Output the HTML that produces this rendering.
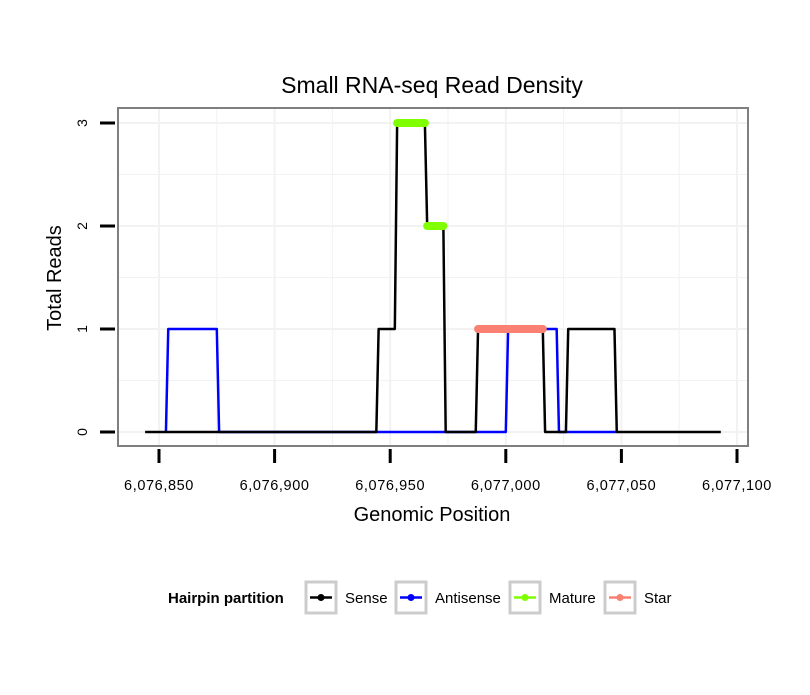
<!DOCTYPE html>
<html><head><meta charset="utf-8"><style>
body{margin:0;background:#fff;}
svg text{font-family:"Liberation Sans",sans-serif;}
</style></head><body>
<svg id="chart" width="810" height="690" viewBox="0 0 810 690" xmlns="http://www.w3.org/2000/svg">
<rect width="810" height="690" fill="#fff"/>
<text x="432" y="93" font-size="23" text-anchor="middle">Small RNA-seq Read Density</text>
<g id="grid"></g>
<g id="series"></g>
<rect x="118" y="108" width="630" height="338" fill="none" stroke="#7f7f7f" stroke-width="2"/>
<g id="axes"></g>
<text x="432" y="521" font-size="20" text-anchor="middle">Genomic Position</text>
<text transform="translate(61,278) rotate(-90)" font-size="20" text-anchor="middle">Total Reads</text>
<g>
<text x="168" y="603" font-size="15" font-weight="bold">Hairpin partition</text>
<g id="legend"></g>
</g>
</svg>
<script>
const xTicks=[6076850,6076900,6076950,6077000,6077050,6077100];
const xTickLabels=["6,076,850","6,076,900","6,076,950","6,077,000","6,077,050","6,077,100"];
const yTicks=[0,1,2,3];
const senseX=[6076844,6076944,6076945,6076952,6076953,6076965,6076966,6076973,6076974,6076987,6076988,6077016,6077017,6077026,6077027,6077047,6077048,6077093];
const senseY=[0,0,1,1,3,3,2,2,0,0,1,1,0,0,1,1,0,0];
const antiX=[6076853,6076854,6076875,6076876,6077000,6077001,6077022,6077023,6077048];
const antiY=[0,1,1,0,0,1,1,0,0];
const matureStart=[6076953,6076966];
const matureEnd=[6076965,6076973];
const matureY=[3,2];
const starStart=[6076988];
const starEnd=[6077016];
const starY=[1];
const legendLabels=["Sense","Antisense","Mature","Star"];
const legendColors=["#000000","#0000ff","#7fff00","#fa8072"];

const NS="http://www.w3.org/2000/svg";
const X=v=>159+(v-6076850)*(737-159)/250;
const Y=v=>432-v*103;
function mk(tag,attrs,parent){const e=document.createElementNS(NS,tag);for(const k in attrs)e.setAttribute(k,attrs[k]);document.getElementById(parent).appendChild(e);return e;}
const minorX=[6076825,6076875,6076925,6076975,6077025,6077075,6077125];
[...xTicks,...minorX].forEach(v=>{const x=X(v);if(x<118||x>748)return;
const g=mk('line',{x1:x,x2:x,y1:108,y2:446,stroke:'#f2f2f2','stroke-width':xTicks.includes(v)?2:1},'grid');

});
[0,0.5,1,1.5,2,2.5,3].forEach(v=>{
const g=mk('line',{x1:118,x2:748,y1:Y(v),y2:Y(v),stroke:'#f2f2f2','stroke-width':Number.isInteger(v)?2:1},'grid');

});
xTicks.forEach((v,i)=>{
const t=mk('line',{x1:X(v),x2:X(v),y1:449,y2:463,stroke:'#000','stroke-width':3},'axes');


const l=mk('text',{x:X(v),y:490,'font-size':14.5,'text-anchor':'middle','letter-spacing':'0.6'},'axes');l.textContent=xTickLabels[i];

});
yTicks.forEach(v=>{
const t=mk('line',{x1:100,x2:115,y1:Y(v),y2:Y(v),stroke:'#000','stroke-width':3},'axes');


const l=mk('text',{transform:`translate(87,${Y(v)}) rotate(-90)`,'font-size':14,'text-anchor':'middle'},'axes');l.textContent=String(v);

});
function poly(xs,ys,col,name){const p=mk('polyline',{points:xs.map((x,i)=>X(x)+','+Y(ys[i])).join(' '),fill:'none',stroke:col,'stroke-width':2.5,'stroke-linejoin':'round'},'series');

}
poly(antiX,antiY,'#0000ff','antisense-line');
poly(senseX,senseY,'#000','sense-line');
function segs(s,e,y,col,name){s.forEach((v,i)=>{const l=mk('line',{x1:X(v),x2:X(e[i]),y1:Y(y[i]),y2:Y(y[i]),stroke:col,'stroke-width':8,'stroke-linecap':'round'},'series');

});}
segs(matureStart,matureEnd,matureY,'#7fff00','mature-segment');
segs(starStart,starEnd,starY,'#fa8072','star-segment');
const keyX=[306,396,510,605];
legendLabels.forEach((lab,i)=>{const x=keyX[i];
const r=mk('rect',{x:x,y:582,width:30,height:31,fill:'#fff',stroke:'#cccccc','stroke-width':3},'legend');


const l=mk('line',{x1:x+4,x2:x+26,y1:597.5,y2:597.5,stroke:legendColors[i],'stroke-width':2.5},'legend');


const c=mk('circle',{cx:x+15,cy:597.5,r:3.5,fill:legendColors[i]},'legend');


const t=mk('text',{x:x+39,y:603,'font-size':15},'legend');t.textContent=lab;

});
</script>
</body></html>
